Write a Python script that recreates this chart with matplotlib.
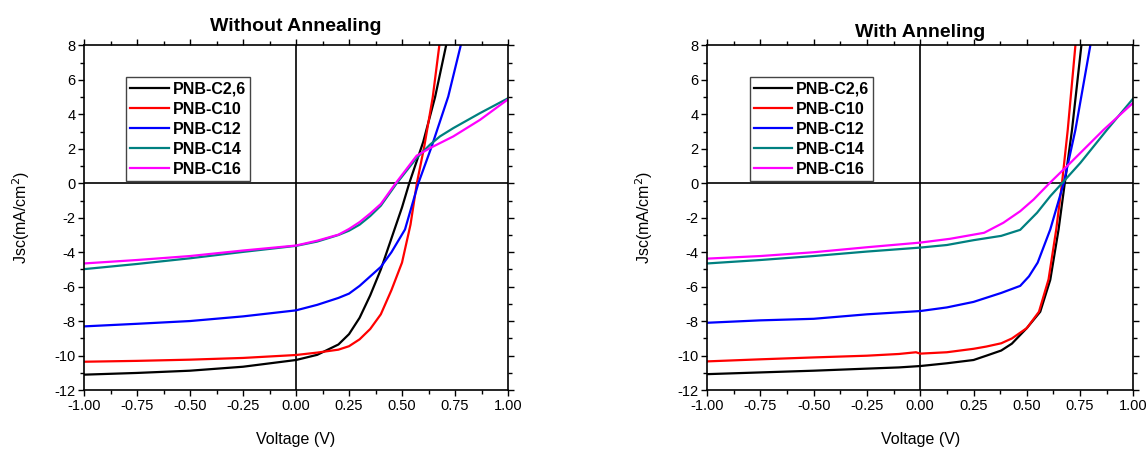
import matplotlib.pyplot as plt
from matplotlib.ticker import MultipleLocator, FormatStrFormatter

plt.rcParams['font.family'] = ['Liberation Sans', 'DejaVu Sans']
plt.rcParams['axes.unicode_minus'] = False

LABELS = ["PNB-C2,6", "PNB-C10", "PNB-C12", "PNB-C14", "PNB-C16"]
COLORS = ["black", "#ff0000", "#0000ff", "#008080", "#ff00ff"]

# without annealing: voltage (V) and current density (mA/cm2)
wo_v = [
    [-1, -0.75, -0.5, -0.25, 0, 0.1, 0.2, 0.25, 0.3, 0.35, 0.4, 0.45, 0.5, 0.534, 0.6, 0.656, 0.708],
    [-1, -0.75, -0.5, -0.25, 0, 0.1, 0.2, 0.25, 0.3, 0.35, 0.4, 0.45, 0.5, 0.54, 0.57, 0.605, 0.645, 0.676],
    [-1, -0.75, -0.5, -0.25, 0, 0.1, 0.2, 0.25, 0.3, 0.35, 0.4, 0.45, 0.514, 0.577, 0.64, 0.718, 0.777],
    [-1, -0.75, -0.5, -0.25, 0, 0.1, 0.2, 0.25, 0.3, 0.35, 0.4, 0.475, 0.569, 0.632, 0.679, 0.742, 0.868, 1.0],
    [-1, -0.75, -0.5, -0.25, 0, 0.1, 0.2, 0.25, 0.3, 0.35, 0.4, 0.47, 0.569, 0.632, 0.679, 0.742, 0.868, 1.0],
]
wo_j = [
    [-11.1, -11.0, -10.87, -10.64, -10.25, -9.95, -9.35, -8.75, -7.8, -6.5, -5.0, -3.2, -1.4, 0, 2.4, 5.0, 8.0],
    [-10.35, -10.3, -10.23, -10.13, -9.96, -9.82, -9.65, -9.45, -9.05, -8.45, -7.6, -6.2, -4.6, -2.4, 0, 2.14, 5.0, 8.0],
    [-8.3, -8.15, -7.99, -7.72, -7.37, -7.05, -6.65, -6.4, -5.95, -5.4, -4.85, -4.0, -2.68, 0, 2.14, 5.03, 8.0],
    [-4.98, -4.68, -4.35, -3.98, -3.63, -3.38, -3.0, -2.75, -2.4, -1.9, -1.3, 0, 1.47, 2.24, 2.72, 3.2, 4.07, 4.93],
    [-4.65, -4.45, -4.22, -3.9, -3.61, -3.33, -2.98, -2.65, -2.25, -1.75, -1.2, 0, 1.6, 2.04, 2.33, 2.72, 3.68, 4.87],
]

# with annealing
w_v = [
    [-1, -0.75, -0.5, -0.25, -0.1, 0, 0.125, 0.25, 0.31, 0.38, 0.43, 0.5, 0.563, 0.61, 0.649, 0.678, 0.712, 0.756],
    [-1, -0.75, -0.5, -0.25, -0.1, -0.02, 0, 0.125, 0.25, 0.31, 0.38, 0.43, 0.5, 0.557, 0.602, 0.638, 0.665, 0.692, 0.728],
    [-1, -0.75, -0.5, -0.25, 0, 0.125, 0.25, 0.38, 0.469, 0.51, 0.551, 0.61, 0.673, 0.728, 0.798],
    [-1, -0.75, -0.5, -0.25, 0, 0.125, 0.25, 0.38, 0.469, 0.548, 0.61, 0.665, 0.751, 0.876, 1.0],
    [-1, -0.75, -0.5, -0.25, 0, 0.14, 0.3, 0.39, 0.469, 0.532, 0.606, 0.704, 0.86, 1.0],
]
w_j = [
    [-11.07, -10.97, -10.87, -10.75, -10.68, -10.6, -10.44, -10.25, -10.0, -9.7, -9.3, -8.4, -7.45, -5.6, -2.68, 0, 3.1, 8.0],
    [-10.33, -10.21, -10.1, -10.0, -9.9, -9.8, -9.88, -9.8, -9.6, -9.47, -9.28, -9.0, -8.4, -7.45, -5.57, -2.68, 0, 3.1, 8.0],
    [-8.09, -7.95, -7.86, -7.6, -7.41, -7.2, -6.88, -6.36, -5.95, -5.4, -4.6, -2.68, 0, 3.1, 8.0],
    [-4.65, -4.45, -4.22, -3.96, -3.73, -3.58, -3.3, -3.05, -2.7, -1.71, -0.75, 0, 1.18, 3.1, 4.93],
    [-4.37, -4.22, -4.0, -3.71, -3.44, -3.22, -2.87, -2.29, -1.62, -0.94, 0, 1.18, 3.1, 4.68],
]


def draw_panel(ax, vs, js, title, title_pad):
    for v, j, lab, c in zip(vs, js, LABELS, COLORS):
        ax.plot(v, j, color=c, lw=1.6, label=lab)
    ax.axhline(0, color="black", lw=1.2, zorder=1)
    ax.axvline(0, color="black", lw=1.2, zorder=1)
    ax.set_xlim(-1, 1)
    ax.set_ylim(-12, 8)
    ax.xaxis.set_major_locator(MultipleLocator(0.25))
    ax.xaxis.set_minor_locator(MultipleLocator(0.125))
    ax.yaxis.set_major_locator(MultipleLocator(2))
    ax.yaxis.set_minor_locator(MultipleLocator(1))
    ax.xaxis.set_major_formatter(FormatStrFormatter("%.2f"))
    ax.tick_params(which="both", direction="out", top=True, right=True,
                   width=1, labelsize=10.5, pad=2)
    ax.tick_params(which="major", length=4)
    ax.tick_params(which="minor", length=3)
    for s in ax.spines.values():
        s.set_linewidth(1.2)
    ax.set_xlabel("Voltage (V)", fontsize=11.5, labelpad=14)
    ax.set_ylabel("Jsc(mA/cm$^2$)", fontsize=11.5, labelpad=16)
    ax.set_title(title, fontsize=14, fontweight="bold", pad=title_pad)
    leg = ax.legend(loc="upper left", bbox_to_anchor=(0.1, 0.907), fancybox=False,
                    framealpha=1, edgecolor="#444444", borderpad=0.25,
                    labelspacing=0.32, handlelength=2.4, handletextpad=0.25,
                    borderaxespad=0, prop={"weight": "bold", "size": 11.5})
    leg.get_frame().set_linewidth(1.0)


fig = plt.figure(figsize=(11.46, 4.49), dpi=100)
ax1 = fig.add_axes([0.0733, 0.131, 0.370, 0.768])
ax2 = fig.add_axes([0.617, 0.131, 0.372, 0.768])

draw_panel(ax1, wo_v, wo_j, "Without Annealing", 10)
draw_panel(ax2, w_v, w_j, "With Anneling", 6)

fig.savefig("out.png", dpi=100)
